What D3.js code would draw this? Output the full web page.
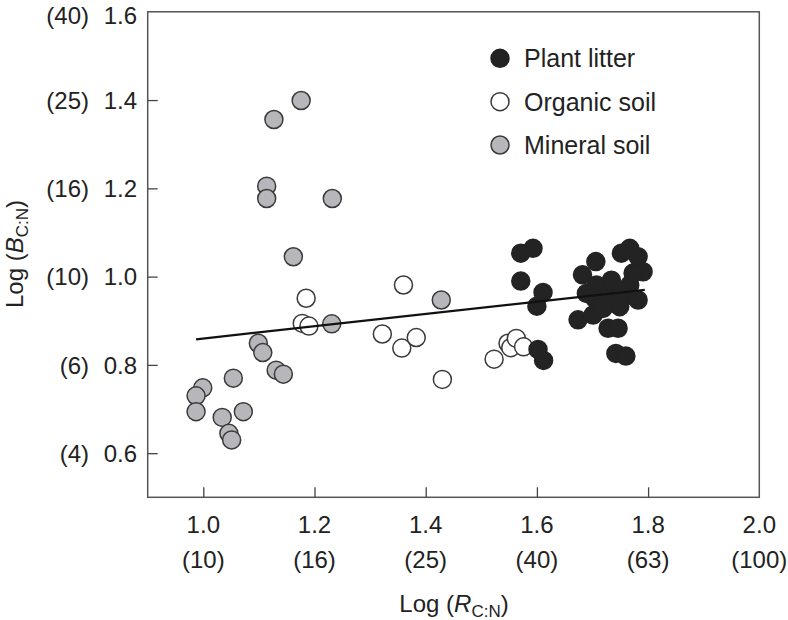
<!DOCTYPE html>
<html>
<head>
<meta charset="utf-8">
<script src="https://cdn.jsdelivr.net/npm/d3@7"></script>
<style>
  html, body { margin: 0; padding: 0; background: #fff; }
  svg { display: block; }
  text { font-family: "Liberation Sans", Arial, Helvetica, sans-serif; fill: #222; }
</style>
</head>
<body>
<svg id="chart" width="788" height="620"></svg>
<script>
// ---- Data ----
const plantX = [1.571, 1.593, 1.571, 1.611, 1.600, 1.602, 1.612, 1.674, 1.682, 1.706, 1.701, 1.704, 1.707, 1.725, 1.734, 1.737, 1.728, 1.746, 1.742, 1.760, 1.752, 1.767, 1.782, 1.791, 1.773, 1.767, 1.758, 1.782, 1.749, 1.719, 1.689, 1.752];
const plantY = [1.053, 1.064, 0.990, 0.964, 0.933, 0.835, 0.810, 0.902, 1.004, 1.034, 0.913, 0.951, 0.981, 0.955, 0.992, 0.940, 0.883, 0.883, 0.826, 0.820, 1.053, 1.064, 1.045, 1.011, 1.008, 0.981, 0.955, 0.947, 0.932, 0.928, 0.962, 0.966];

const organicX = [1.185, 1.178, 1.190, 1.322, 1.357, 1.360, 1.383, 1.430, 1.523, 1.548, 1.553, 1.563, 1.576];
const organicY = [0.951, 0.894, 0.888, 0.870, 0.838, 0.981, 0.862, 0.767, 0.813, 0.849, 0.839, 0.860, 0.841];

const mineralX = [1.176, 1.127, 1.114, 1.114, 1.232, 1.162, 1.231, 1.099, 1.107, 1.131, 1.144, 1.054, 0.999, 0.987, 0.987, 1.072, 1.034, 1.046, 1.051, 1.428];
const mineralY = [1.399, 1.356, 1.205, 1.177, 1.177, 1.045, 0.893, 0.849, 0.828, 0.788, 0.779, 0.770, 0.748, 0.730, 0.694, 0.694, 0.681, 0.645, 0.630, 0.947];

// regression line endpoints
const lineX = [0.987, 1.794];
const lineY = [0.858, 0.970];

const xTicks = [1.0, 1.2, 1.4, 1.6, 1.8, 2.0];
const xTickLabels = ["1.0", "1.2", "1.4", "1.6", "1.8", "2.0"];
const xTickRatios = ["(10)", "(16)", "(25)", "(40)", "(63)", "(100)"];
const yTicks = [0.6, 0.8, 1.0, 1.2, 1.4, 1.6];
const yTickLabels = ["0.6", "0.8", "1.0", "1.2", "1.4", "1.6"];
const yTickRatios = ["(4)", "(6)", "(10)", "(16)", "(25)", "(40)"];

const seriesNames = ["Plant litter", "Organic soil", "Mineral soil"];
const seriesFill = ["#232323", "#ffffff", "#b7b7bb"];

// ---- Layout ----
const svg = d3.select("#chart");
const pL = 147.7, pR = 759.3, pT = 11.8, pB = 497.3;
const x = d3.scaleLinear().domain([0.9, 2.0]).range([pL, pR]);
const y = d3.scaleLinear().domain([0.5, 1.6]).range([pB, pT]);
const R = 9;
const labelY = d => Math.max(y(d), 15);

// frame
svg.append("rect")
  .attr("x", pL).attr("y", pT)
  .attr("width", pR - pL).attr("height", pB - pT)
  .attr("fill", "none").attr("stroke", "#555").attr("stroke-width", 1.5);

// x axis ticks (inward)
const xAxis = d3.axisTop(x).tickValues(xTicks.filter(d => d < 2.0)).tickSize(10).tickFormat("");
const gx = svg.append("g").attr("transform", `translate(0,${pB})`).call(xAxis);
gx.select(".domain").remove();
gx.selectAll(".tick line").attr("stroke", "#444").attr("stroke-width", 1.3);

// y axis ticks (inward)
const yAxis = d3.axisRight(y).tickValues(yTicks.filter(d => d < 1.6)).tickSize(10).tickFormat("");
const gy = svg.append("g").attr("transform", `translate(${pL},0)`).call(yAxis);
gy.select(".domain").remove();
gy.selectAll(".tick line").attr("stroke", "#444").attr("stroke-width", 1.3);

// x tick labels
svg.append("g").selectAll("text").data(xTicks).join("text")
  .attr("x", d => x(d)).attr("y", 533)
  .attr("text-anchor", "middle").attr("font-size", 24)
  .text((d, i) => xTickLabels[i]);
svg.append("g").selectAll("text").data(xTicks).join("text")
  .attr("x", d => x(d)).attr("y", 568)
  .attr("text-anchor", "middle").attr("font-size", 24)
  .text((d, i) => xTickRatios[i]);

// y tick labels
svg.append("g").selectAll("text").data(yTicks).join("text")
  .attr("x", 137).attr("y", labelY).attr("dy", "0.36em")
  .attr("text-anchor", "end").attr("font-size", 24)
  .text((d, i) => yTickLabels[i]);
svg.append("g").selectAll("text").data(yTicks).join("text")
  .attr("x", 89).attr("y", labelY).attr("dy", "0.36em")
  .attr("text-anchor", "end").attr("font-size", 24)
  .text((d, i) => yTickRatios[i]);

// axis titles
const xt = svg.append("text").attr("x", 454).attr("y", 612)
  .attr("text-anchor", "middle").attr("font-size", 24);
xt.append("tspan").text("Log (");
xt.append("tspan").attr("font-style", "italic").text("R");
xt.append("tspan").attr("font-size", 17).attr("dy", 5).text("C:N");
xt.append("tspan").attr("dy", -5).text(")");

const yt = svg.append("text").attr("transform", "translate(23,254) rotate(-90)")
  .attr("text-anchor", "middle").attr("font-size", 24);
yt.append("tspan").text("Log (");
yt.append("tspan").attr("font-style", "italic").text("B");
yt.append("tspan").attr("font-size", 17).attr("dy", 5).text("C:N");
yt.append("tspan").attr("dy", -5).text(")");

// points
function drawSeries(xs, ys, fill, stroke) {
  svg.append("g").selectAll("circle").data(xs.map((d, i) => [d, ys[i]])).join("circle")
    .attr("cx", d => x(d[0])).attr("cy", d => y(d[1])).attr("r", R)
    .attr("fill", fill).attr("stroke", stroke).attr("stroke-width", 1.5);
}
drawSeries(mineralX, mineralY, seriesFill[2], "#3a3a3a");
drawSeries(organicX, organicY, seriesFill[1], "#3a3a3a");
drawSeries(plantX, plantY, seriesFill[0], "#232323");

// regression line
svg.append("path")
  .datum(lineX.map((d, i) => [d, lineY[i]]))
  .attr("d", d3.line().x(d => x(d[0])).y(d => y(d[1])))
  .attr("stroke", "#111").attr("stroke-width", 2.2).attr("fill", "none");

// legend
const legendY = [58.3, 101.7, 145];
const lg = svg.append("g");
seriesNames.forEach((name, i) => {
  lg.append("circle").attr("cx", 500).attr("cy", legendY[i]).attr("r", R)
    .attr("fill", seriesFill[i]).attr("stroke", i === 0 ? "#232323" : "#3a3a3a").attr("stroke-width", 1.5);
  lg.append("text").attr("x", 524).attr("y", legendY[i]).attr("dy", "0.36em")
    .attr("font-size", 25).text(name);
});
</script>
</body>
</html>
